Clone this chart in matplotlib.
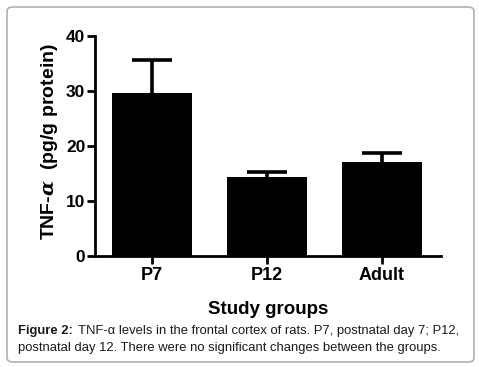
import matplotlib
matplotlib.use("Agg")
import matplotlib.pyplot as plt
from matplotlib.patches import FancyBboxPatch

# data
groups = ["P7", "P12", "Adult"]
means = [29.7, 14.4, 17.1]
sems = [5.9, 0.9, 1.7]
y_ticks = [0, 10, 20, 30, 40]

plt.rcParams.update({
    "font.family": "Liberation Sans",
    "font.weight": "bold",
    "mathtext.fontset": "custom",
    "mathtext.it": "DejaVu Serif:italic",
})

fig = plt.figure(figsize=(4.79, 3.67), dpi=100)

# rounded frame round the whole figure
frame = FancyBboxPatch((7 / 479, 5 / 367), 467 / 479, 355 / 367,
                       boxstyle="round,pad=0,rounding_size=0.012",
                       transform=fig.transFigure, fill=False,
                       edgecolor="#b0b0b0", linewidth=1.2)
fig.patches.append(frame)

ax = fig.add_axes([95 / 479, 1 - 256 / 367, 346 / 479, 220 / 367])

x = range(len(groups))
ax.bar(x, means, width=0.70, color="black", zorder=2)
_, caps, _ = ax.errorbar(x, means, yerr=[[0] * len(sems), sems], fmt="none",
                         ecolor="black", elinewidth=2.6, capsize=14.5,
                         capthick=2.6, zorder=1)
caps[0].set_visible(False)  # only the upper cap is drawn

ax.set_xlim(-0.496, 2.513)
ax.set_ylim(0, 40)
ax.set_yticks(y_ticks)
ax.set_xticks(list(x))
ax.set_xticklabels(groups, fontsize=13, fontweight="bold")
ax.set_yticklabels([str(t) for t in y_ticks], fontsize=12.5, fontweight="bold")

for s in ["top", "right"]:
    ax.spines[s].set_visible(False)
for s in ["left", "bottom"]:
    ax.spines[s].set_linewidth(2)
ax.tick_params(axis="y", length=6, width=2, pad=1)
ax.tick_params(axis="x", length=6, width=2, pad=2)

ax.set_xlabel("Study groups", fontsize=13.5, fontweight="bold", labelpad=12)
ax.set_ylabel(r"TNF-$\mathit{\alpha}$  (pg/g protein)", fontsize=14,
              fontweight="bold")
ax.yaxis.set_label_coords(-0.10, 0.52)

cap_color = "#1a1a1a"
fig.text(18 / 479, 1 - 331 / 367,
         "Figure 2:", fontsize=9.4, fontweight="bold", color=cap_color, va="center")
fig.text(78 / 479, 1 - 331 / 367,
         "TNF-\u03b1 levels in the frontal cortex of rats. P7, postnatal day 7; P12,",
         fontsize=9.4, fontweight="normal", color=cap_color, va="center")
fig.text(18 / 479, 1 - 348 / 367,
         "postnatal day 12. There were no significant changes between the groups.",
         fontsize=9.4, fontweight="normal", color=cap_color, va="center")

fig.savefig("out.png", dpi=100, facecolor="white")
